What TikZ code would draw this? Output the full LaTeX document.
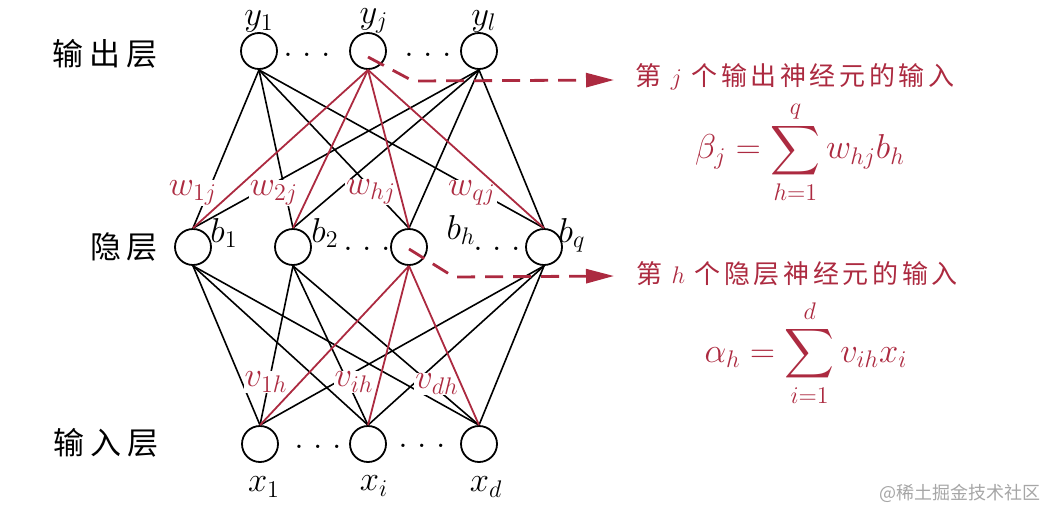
\documentclass[tikz,border=0pt]{standalone}
\usepackage{amsmath,amssymb}
\usepackage{xcolor}
\usepackage{fontspec}
\usepackage{tikz}
\usetikzlibrary{arrows.meta}
\newfontfamily\cjk[LetterSpace=18]{Noto Sans CJK SC}
\newfontfamily\cjkred[LetterSpace=14]{Noto Sans CJK SC}
\newfontfamily\cjkmark{Noto Sans CJK SC}
\definecolor{bpred}{RGB}{172,42,64}
\newcommand{\spreaddots}{.\mkern5mu.\mkern5mu.}

\begin{document}
\begin{tikzpicture}[x=0.5pt, y=-0.5pt, >=latex, every node/.style={font=\LARGE},
  neuron/.style={circle, draw, line width=0.9pt, minimum size=18pt, inner sep=0pt},
  wlabel/.style={fill=white, inner sep=0.5pt, text=bpred},
  link/.style={line width=0.8pt},
  redlink/.style={line width=0.9pt, draw=bpred},
  guide/.style={draw=bpred, line width=1.4pt, dash pattern=on 9pt off 5pt,
    -{Triangle[length=14pt,width=7pt]}}]
  \useasboundingbox (0,0) rectangle (1058,520);

  % neurons
  \node [neuron] (y1) at (259,51) {};
  \node [neuron, right of=y1, node distance=54.5pt] (yj) {};
  \node [neuron, right of=yj, node distance=55.5pt] (yl) {};

  \node [neuron] (b1) at (193,247) {};
  \node [neuron, right of=b1, node distance=50pt] (b2) {};
  \node [neuron, right of=b2, node distance=58pt] (bh) {};
  \node [neuron, right of=bh, node distance=67.5pt] (bq) {};

  \node [neuron] (x1) at (260,444) {};
  \node [neuron, right of=x1, node distance=54pt] (xi) {};
  \node [neuron, right of=xi, node distance=55.5pt] (xd) {};

  \node [above of=y1, node distance=15pt] (ly1) {$y_1$};
  \node [above of=yj, node distance=15pt, xshift=3pt] (lyj) {$y_j$};
  \node [above of=yl, node distance=15pt, xshift=2.5pt] (lyl) {$y_l$};
  \node at ([xshift=15.5pt,yshift=7pt]b1) (lb1) {$b_1$};
  \node at ([xshift=16pt,yshift=7pt]b2) (lb2) {$b_2$};
  \node at ([xshift=26pt,yshift=8.5pt]bh) (lbh) {$b_h$};
  \node at ([xshift=14pt,yshift=6pt]bq) (lbq) {$b_q$};
  \node [below of=x1, node distance=21.5pt, xshift=2pt] (lx1) {$x_1$};
  \node [below of=xi, node distance=21pt, xshift=3pt] (lxi) {$x_i$};
  \node [below of=xd, node distance=21.5pt, xshift=3.5pt] (lxd) {$x_d$};

  \node (dy1) at (307,55) {$\spreaddots$};
  \node (dy2) at (428,55) {$\spreaddots$};
  \node (db1) at (367,249) {$\spreaddots$};
  \node (db2) at (497,249) {$\spreaddots$};
  \node (dx1) at (318,447) {$\spreaddots$};
  \node (dx2) at (422,446) {$\spreaddots$};

  \node [font=\cjk\fontsize{15.5}{18}\selectfont] (outlayer) at (105,54) {输出层};
  \node [font=\cjk\fontsize{15.5}{18}\selectfont] (hidlayer) at (124,247) {隐层};
  \node [font=\cjk\fontsize{15.5}{18}\selectfont] (inlayer) at (106,443) {输入层};

  % black connections
  \foreach \top in {y1,yl}
    \foreach \bot in {b1,b2,bh,bq}
      \draw [link] (\top.south) -- (\bot.north);
  \foreach \top in {b1,b2,bq}
    \foreach \bot in {x1,xi,xd}
      \draw [link] (\top.south) -- (\bot.north);

  % weights
  \node [wlabel] (w1) at (193,193) {$w_{1j}$};
  \node [wlabel] (w2) at (274,193) {$w_{2j}$};
  \node [wlabel] (wh) at (371,192) {$w_{hj}$};
  \node [wlabel] (wq) at (472,193) {$w_{qj}$};
  \node [wlabel] (v1) at (266,382) {$v_{1h}$};
  \node [wlabel] (vi) at (354,382) {$v_{ih}$};
  \node [wlabel] (vd) at (437,384) {$v_{dh}$};

  % red connections
  \foreach \bot in {b1,b2,bh,bq}
    \draw [redlink] (yj.south) -- (\bot.north);
  \foreach \bot in {x1,xi,xd}
    \draw [redlink] (bh.south) -- (\bot.north);

  \coordinate (bendj) at (413,81);
  \coordinate (tipj) at (614,80);
  \coordinate (bendh) at (454,277);
  \coordinate (tiph) at (614,276);
  \draw [guide] ([yshift=-3pt]yj.center) -- (bendj) -- (tipj);
  \draw [guide] ([yshift=-1pt]bh.center) -- (bendh) -- (tiph);

  \node [text=bpred, font=\cjkred\fontsize{13}{15}\selectfont] (outtext) at (795,77) {第 $j$ 个输出神经元的输入};
  \node [text=bpred] (beta) at (800,152) {$\displaystyle \beta_j = \sum_{h=1}^{q} w_{hj} b_h$};
  \node [text=bpred, font=\cjkred\fontsize{13}{15}\selectfont] (hidtext) at (797,274) {第 $h$ 个隐层神经元的输入};
  \node [text=bpred] (alpha) at (806,353) {$\displaystyle \alpha_h = \sum_{i=1}^{d} v_{ih} x_i$};

  \node [text=black!35, font=\cjkmark\fontsize{9}{11}\selectfont] (mark) at (960,493) {@稀土掘金技术社区};
\end{tikzpicture}
\end{document}
